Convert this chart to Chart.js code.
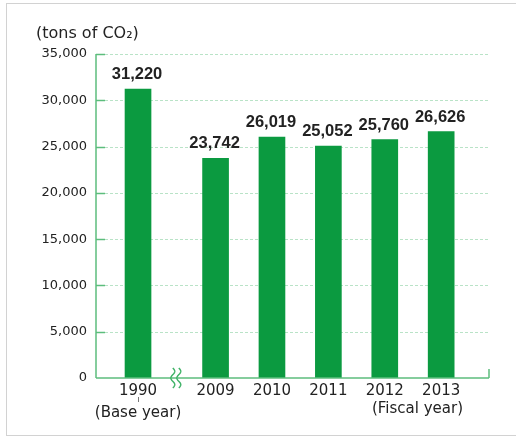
<!DOCTYPE html>
<html><head><meta charset="utf-8">
<script src="https://cdn.jsdelivr.net/npm/chart.js@4/dist/chart.umd.min.js"></script>
<style>html,body{margin:0;padding:0;background:#fff}#wrap{width:516px;height:437px;position:relative}</style>
</head><body><div id="wrap"><canvas id="c" width="516" height="437"></canvas></div>
<script>
// ---- data ----
const years = ['1990', '2009', '2010', '2011', '2012', '2013'];
const emissions = [31220, 23742, 26019, 25052, 25760, 26626];
const yTickValues = [0, 5000, 10000, 15000, 20000, 25000, 30000, 35000];
const baseYearNote = '(Base year)';
const fiscalYearNote = '(Fiscal year)';
const unitLabel = '(tons of CO₂)';

// ---- layout helpers (axis break after the base year) ----
const BREAK_GAP = 0.375;
const slots = years.map((y, i) => i === 0 ? 0 : i + BREAK_GAP);

const BAR = '#0b9a40';
const AXIS = '#5cbd7c';
const GRID = '#b9e3c7';
const TEXT = '#222222';

function line(ctx, x1, y1, x2, y2) { ctx.beginPath(); ctx.moveTo(x1, y1); ctx.lineTo(x2, y2); ctx.stroke(); }

const deco = {
  id: 'deco',
  beforeDraw(chart) {
    const ctx = chart.ctx;
    ctx.save();
    ctx.fillStyle = '#fff'; ctx.fillRect(0, 0, chart.width, chart.height);
    ctx.strokeStyle = '#d2d2d2'; ctx.lineWidth = 1;
    ctx.strokeRect(6.5, 3.5, 530, 432);
    ctx.fillStyle = TEXT; ctx.font = '16px "DejaVu Sans"';
    ctx.textBaseline = 'alphabetic'; ctx.textAlign = 'left';
    ctx.fillText(unitLabel, 36, 38);
    ctx.restore();
  },
  beforeDatasetsDraw(chart) {
    const { ctx, chartArea: a, scales: { y } } = chart;
    ctx.save();
    yTickValues.forEach(v => {
      if (v === 0) return;
      const py = Math.round(y.getPixelForValue(v)) + 0.5;
      ctx.strokeStyle = GRID; ctx.lineWidth = 1; ctx.setLineDash([3, 2]);
      line(ctx, a.left + 9, py, a.right, py);
      ctx.setLineDash([]); ctx.strokeStyle = AXIS; ctx.lineWidth = 1.5;
      line(ctx, a.left, py, a.left + 9, py);
    });
    ctx.restore();
  },
  afterDatasetsDraw(chart) {
    const { ctx, chartArea: a, scales: { x, y } } = chart;
    ctx.save();
    ctx.strokeStyle = AXIS; ctx.lineWidth = 1.5;
    const y0 = y.getPixelForValue(0);
    line(ctx, a.left, y.getPixelForValue(35000), a.left, y0);
    line(ctx, a.left, y0, a.right, y0);
    line(ctx, a.right, y0 - 9, a.right, y0);
    // axis break squiggles
    const bx = (x.getPixelForValue(slots[0]) + x.getPixelForValue(slots[1])) / 2 - 1;
    ctx.strokeStyle = '#3fb267'; ctx.lineWidth = 1.4;
    [-3, 3].forEach(dx => {
      ctx.beginPath();
      for (let t = 0; t <= 20; t += 0.5) {
        const px = bx + dx + 2 * Math.sin(t / 20 * 3 * Math.PI);
        const py = y0 - 10 + t;
        if (t === 0) ctx.moveTo(px, py); else ctx.lineTo(px, py);
      }
      ctx.stroke();
    });
    // value labels
    const meta = chart.getDatasetMeta(0);
    ctx.fillStyle = TEXT; ctx.font = 'bold 16.5px "Liberation Sans"';
    ctx.textAlign = 'center'; ctx.textBaseline = 'alphabetic';
    meta.data.forEach((bar, i) => {
      ctx.fillText(emissions[i].toLocaleString('en-US'), bar.x - 1, bar.y - 10);
    });
    // fiscal year note
    ctx.font = '15px "DejaVu Sans"'; ctx.textAlign = 'right'; ctx.textBaseline = 'middle';
    ctx.fillText(fiscalYearNote, 463, 409);
    // leader for base year
    const b0 = x.getPixelForValue(slots[0]);
    ctx.strokeStyle = '#777'; ctx.lineWidth = 1;
    line(ctx, Math.round(b0) + 0.5, 397, Math.round(b0) + 0.5, 402);
    ctx.restore();
  }
};

new Chart(document.getElementById('c'), {
  type: 'bar',
  data: {
    datasets: [{
      data: emissions.map((v, i) => ({ x: slots[i], y: v })),
      backgroundColor: BAR,
      barThickness: 26,
      borderWidth: 0
    }]
  },
  options: {
    responsive: false,
    animation: false,
    devicePixelRatio: 1,
    layout: { padding: { top: 54, right: 27, left: 0, bottom: 0 } },
    plugins: { legend: { display: false }, tooltip: { enabled: false }, title: { display: false } },
    scales: {
      x: {
        type: 'linear',
        min: -0.745, max: 6.223,
        offset: false,
        grid: { display: false, drawTicks: false },
        border: { display: false },
        afterBuildTicks(scale) { scale.ticks = slots.map(v => ({ value: v })); },
        afterFit(scale) { scale.height = 59; },
        ticks: {
          autoSkip: false, maxRotation: 0, padding: 2,
          color: TEXT,
          font: { family: '"DejaVu Sans"', size: 15, lineHeight: 1.45 },
          callback(value, index) { return index === 0 ? [years[0], baseYearNote] : years[index]; }
        }
      },
      y: {
        min: 0, max: 35000,
        grid: { display: false, drawTicks: false },
        border: { display: false },
        afterBuildTicks(scale) { scale.ticks = yTickValues.map(v => ({ value: v })); },
        afterFit(scale) { scale.width = 96; },
        ticks: {
          padding: 9, color: TEXT,
          font: { family: '"DejaVu Sans"', size: 13 },
          callback(v) { return Number(v).toLocaleString('en-US'); }
        }
      }
    }
  },
  plugins: [deco]
});
</script></body></html>
